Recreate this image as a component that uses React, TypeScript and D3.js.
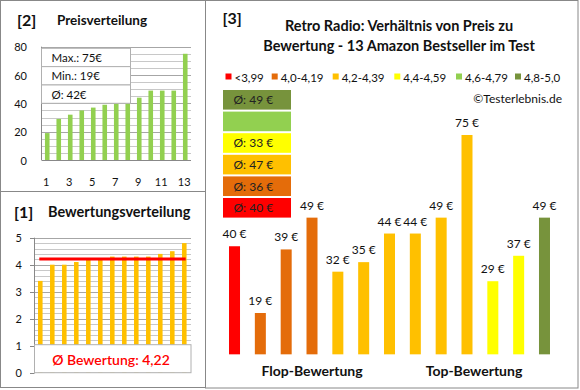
import * as d3 from "d3";

// product data, ordered from flop to top rating (panel [3] order)
const ratings = [3.4, 4.0, 4.0, 4.1, 4.2, 4.2, 4.3, 4.3, 4.3, 4.3, 4.4, 4.5, 4.8];
const prices = [40, 19, 39, 49, 32, 35, 44, 44, 49, 75, 29, 37, 49];

const classLabels = ["<3,99", "4,0-4,19", "4,2-4,39", "4,4-4,59", "4,6-4,79", "4,8-5,0"];
const classLimits = [4.0, 4.2, 4.4, 4.6, 4.8];
const classColors = ["#ff0000", "#e46c0a", "#ffc000", "#ffff00", "#92d050", "#77933c"];

const priceTicks = [0, 20, 40, 60, 80];
const positionTicks = [1, 3, 5, 7, 9, 11, 13];
const ratingTicks = [0, 1, 2, 3, 4, 5];
const groupLabels = ["Flop-Bewertung", "Top-Bewertung"];

const FONT = "Lato, 'Open Sans', sans-serif";
const FRAME = "#888888";
const GRID = "#c8c8c8";
const TXT = "#111111";

const classOf = d3.scaleThreshold<number, number>().domain(classLimits).range(d3.range(6));

function PricePanel() {
  const sorted = [...prices].sort((a, b) => a - b);
  const positions = d3.range(1, sorted.length + 1);
  const x = d3.scaleBand<number>().domain(positions).range([41.5, 191]).paddingInner(0.6).paddingOuter(0.3);
  const y = d3.scaleLinear().domain([0, 80]).range([160, 46.7]);
  const grid = d3.range(5, 81, 5);
  const stats = [
    `Max.: ${d3.max(sorted)}€`,
    `Min.: ${d3.min(sorted)}€`,
    `Ø: ${Math.round(d3.mean(sorted) as number)}€`,
  ];
  const boxY = d3.scaleBand<number>().domain([0, 1, 2]).range([48.3, 103.3]);
  return (
    <g>
      <rect x={0.5} y={0.5} width={205} height={191} fill="#fff" stroke={FRAME} />
      <text x={17} y={26} fontSize={16} fontWeight="bold" fill={TXT}>[2]</text>
      <text x={57} y={25} fontSize={13.5} fontWeight="bold" fill={TXT}>Preisverteilung</text>
      {grid.map((g) => (
        <line key={g} x1={41.5} x2={191} y1={Math.round(y(g)) + 0.5} y2={Math.round(y(g)) + 0.5}
          stroke={g % 20 === 0 ? "#a6a6a6" : GRID} />
      ))}
      <line x1={41.5} x2={41.5} y1={y(80)} y2={y(0)} stroke={FRAME} />
      <line x1={41.5} x2={191} y1={y(0) + 0.5} y2={y(0) + 0.5} stroke={FRAME} />
      {sorted.map((v, i) => (
        <rect key={i} x={x(i + 1)} y={y(v)} width={x.bandwidth()} height={y(0) - y(v)} fill="#92d050" />
      ))}
      {priceTicks.map((t) => (
        <text key={t} x={27} y={y(t)} textAnchor="end" dominantBaseline="central" fontSize={11} fill={TXT}>{t}</text>
      ))}
      {positionTicks.map((t) => (
        <text key={t} x={(x(t) as number) + x.bandwidth() / 2 - 1} y={181} textAnchor="middle"
          dominantBaseline="central" fontSize={11} fill={TXT}>{t}</text>
      ))}
      {stats.map((s, i) => (
        <g key={s}>
          <rect x={41.5} y={boxY(i)} width={89} height={boxY.bandwidth()} fill="#fff" stroke="#b0b0b0" />
          <text x={51.5} y={(boxY(i) as number) + boxY.bandwidth() / 2} dominantBaseline="central"
            fontSize={11.5} fill={TXT}>{s}</text>
        </g>
      ))}
    </g>
  );
}

function RatingPanel() {
  const x = d3.scaleBand<number>().domain(d3.range(ratings.length)).range([34.3, 190.3]).paddingInner(0.62).paddingOuter(0.31);
  const y = d3.scaleLinear().domain([0, 5]).range([372.7, 237.7]);
  const grid = d3.range(1, 5.01, 0.2);
  const avg = d3.mean(ratings) as number;
  return (
    <g>
      <rect x={0.5} y={191.5} width={205} height={196} fill="#fff" stroke={FRAME} />
      <text x={14} y={218} fontSize={16} fontWeight="bold" fill={TXT}>[1]</text>
      <text x={48} y={217} fontSize={14.5} fontWeight="bold" fill={TXT}>Bewertungsverteilung</text>
      {grid.map((g, i) => (
        <line key={i} x1={34.3} x2={191} y1={Math.round(y(g)) + 0.5} y2={Math.round(y(g)) + 0.5}
          stroke={i % 5 === 0 ? "#a6a6a6" : GRID} />
      ))}
      <line x1={34.5} x2={34.5} y1={y(5)} y2={y(0)} stroke={FRAME} />
      {ratingTicks.map((t) => (
        <g key={t}>
          <line x1={30} x2={34.5} y1={Math.round(y(t)) + 0.5} y2={Math.round(y(t)) + 0.5} stroke={FRAME} />
          <text x={22} y={y(t)} textAnchor="end" dominantBaseline="central" fontSize={11} fill={TXT}>{t}</text>
        </g>
      ))}
      {ratings.map((v, i) => (
        <rect key={i} x={x(i)} y={y(v)} width={x.bandwidth()} height={y(0) - y(v)} fill="#ffc000" />
      ))}
      <line x1={39.3} x2={185.7} y1={y(avg)} y2={y(avg)} stroke="#ff0000" strokeWidth={3} />
      <rect x={34.5} y={y(1) - 1} width={156.5} height={y(0) - y(1) + 1} fill="#fff" stroke="#b0b0b0" />
      <text x={111} y={(y(1) + y(0)) / 2} textAnchor="middle" dominantBaseline="central" fontSize={14}
        fontWeight={600} fill="#ff0000">{`Ø Bewertung: ${avg.toFixed(2).replace(".", ",")}`}</text>
    </g>
  );
}

function RatioPanel() {
  const x = d3.scaleBand<number>().domain(d3.range(prices.length)).range([221.6, 557.4]).paddingInner(0.574).paddingOuter(0.287);
  const y = d3.scaleLinear().domain([0, 80]).range([373.4, 119.1]);
  const base = 6;
  const classes = ratings.map((r) => classOf(r));
  const groupAvg = d3.range(6).map((c) => {
    const vals = prices.filter((_, i) => classes[i] === c);
    return vals.length ? Math.round(d3.mean(vals) as number) : null;
  });
  const boxOrder = d3.range(5, -1, -1);
  const boxY = d3.scaleBand<number>().domain(boxOrder).range([90, 217.6]).paddingInner(0.0926);
  const legendSquareX = [225.5, 271.7, 332.7, 394.3, 456, 515];
  const center = (i: number) => (x(i) as number) + x.bandwidth() / 2;
  return (
    <g>
      <rect x={205.5} y={0.5} width={372.5} height={387.5} fill="#fff" stroke={FRAME} />
      <text x={222.5} y={24} fontSize={16} fontWeight="bold" fill={TXT}>[3]</text>
      <text x={399} y={25} textAnchor="middle" dominantBaseline="central" fontSize={14.5} fontWeight="bold" fill={TXT}>
        Retro Radio: Verhältnis von Preis zu
      </text>
      <text x={399} y={45} textAnchor="middle" dominantBaseline="central" fontSize={14.5} fontWeight="bold" fill={TXT}>
        Bewertung - 13 Amazon Bestseller im Test
      </text>
      {classLabels.map((l, i) => (
        <g key={l}>
          <rect x={legendSquareX[i]} y={73.5} width={6} height={6} fill={classColors[i]} />
          <text x={legendSquareX[i] + 9} y={77} dominantBaseline="central" fontSize={11.5} fill={TXT}>{l}</text>
        </g>
      ))}
      <text x={562} y={98} textAnchor="end" dominantBaseline="central" fontSize={12} fill={TXT}>©Testerlebnis.de</text>
      {boxOrder.map((c) => (
        <g key={c}>
          <rect x={223} y={boxY(c)} width={68} height={boxY.bandwidth()} fill={classColors[c]} />
          {groupAvg[c] !== null && (
            <text x={233.5} y={(boxY(c) as number) + boxY.bandwidth() / 2} dominantBaseline="central"
              fontSize={12} fill="#222">{`Ø: ${groupAvg[c]} €`}</text>
          )}
        </g>
      ))}
      {prices.map((p, i) => (
        <g key={i}>
          <rect x={x(i)} y={y(p)} width={x.bandwidth()} height={y(base) - y(p)} fill={classColors[classes[i]]} />
          <text x={center(i)} y={y(p) - 12.5} textAnchor="middle" dominantBaseline="central" fontSize={12}
            fill={TXT}>{`${p} €`}</text>
        </g>
      ))}
      <text x={center(3)} y={370} textAnchor="middle" dominantBaseline="central" fontSize={14} fontWeight="bold"
        fill={TXT}>{groupLabels[0]}</text>
      <text x={center(9) + 7} y={370} textAnchor="middle" dominantBaseline="central" fontSize={14} fontWeight="bold"
        fill={TXT}>{groupLabels[1]}</text>
    </g>
  );
}

export default function App() {
  return (
    <svg width={580} height={390} style={{ position: "absolute", left: 0, top: 0, fontFamily: FONT }}>
      <rect width={580} height={390} fill="#fff" />
      <PricePanel />
      <RatingPanel />
      <RatioPanel />
    </svg>
  );
}
